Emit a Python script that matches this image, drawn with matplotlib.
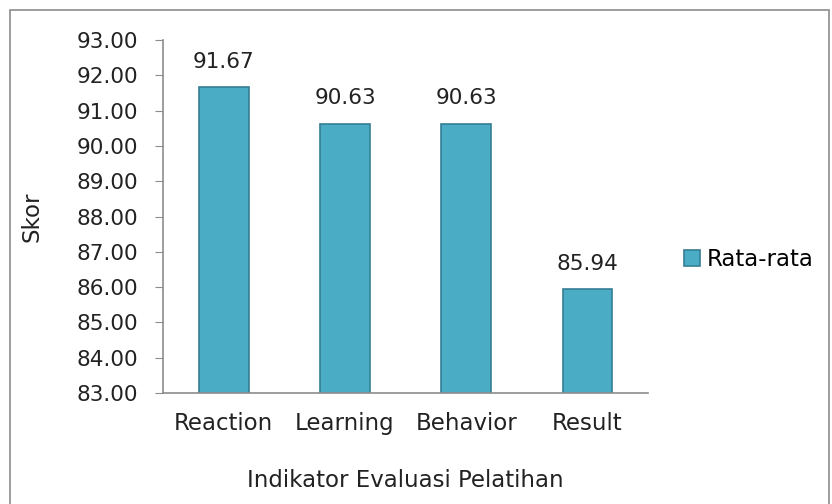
import matplotlib.pyplot as plt
from matplotlib.patches import Rectangle

categories = ["Reaction", "Learning", "Behavior", "Result"]
values = [91.67, 90.63, 90.63, 85.94]
series_name = "Rata-rata"

plt.rcParams['font.family'] = ['DejaVu Sans']

fig = plt.figure(figsize=(8.32, 5.04), dpi=100)
ax = fig.add_axes([0.196, 0.2202, 0.583, 0.7004])

x = range(len(categories))
bars = ax.bar(x, values, width=0.41, color="#4BACC6", edgecolor="#357F93",
              linewidth=1.2, label=series_name)

for b, v in zip(bars, values):
    ax.annotate(f"{v:.2f}", (b.get_x() + b.get_width() / 2, v),
                xytext=(0, 11), textcoords="offset points",
                ha="center", va="bottom", fontsize=15.5, color="#222222")

ax.set_ylim(83, 93)
ax.set_yticks(range(83, 94))
ax.set_yticklabels([f"{t:.2f}" for t in range(83, 94)])
ax.set_xlim(-0.5, 3.5)
ax.set_xticks(list(x))
ax.set_xticklabels(categories)

for s in ["top", "right"]:
    ax.spines[s].set_visible(False)
for s in ["left", "bottom"]:
    ax.spines[s].set_color("#8C8C8C")
    ax.spines[s].set_linewidth(1.2)

ax.tick_params(axis="y", length=6, color="#8C8C8C", labelsize=15.5,
               labelcolor="#222222", pad=12)
ax.tick_params(axis="x", length=0, labelsize=16.5, labelcolor="#222222", pad=14)

ax.set_ylabel("Skor", fontsize=16.5, color="#222222", labelpad=24)
ax.set_xlabel("Indikator Evaluasi Pelatihan", fontsize=16.5, color="#222222",
              labelpad=24)

leg = ax.legend(loc="center left", bbox_to_anchor=(1.055, 0.377), frameon=False,
                fontsize=16.5, handlelength=0.7, handleheight=0.7,
                handletextpad=0.3, borderaxespad=0)

fig.patches.append(Rectangle((10 / 832, -0.1), 819 / 832, 1.1 - 10 / 504,
                             transform=fig.transFigure, fill=False,
                             edgecolor="#8C8C8C", linewidth=1.2))

fig.savefig("out.png", dpi=100)
